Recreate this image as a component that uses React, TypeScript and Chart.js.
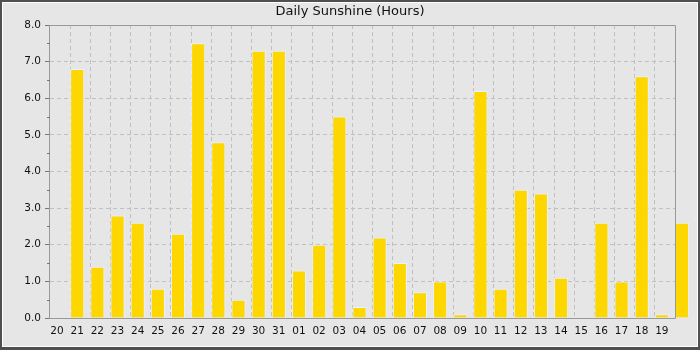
import React, { useEffect, useRef } from "react";
import { Chart, registerables } from "chart.js";

Chart.register(...registerables);

// ---- data ----
const dayLabels: string[] = [
  "20", "21", "22", "23", "24", "25", "26", "27", "28", "29", "30", "31",
  "01", "02", "03", "04", "05", "06", "07", "08", "09", "10", "11", "12",
  "13", "14", "15", "16", "17", "18", "19",
];
// one more value than labels: the last bar falls past the right edge of the plot
const sunshineHours: number[] = [
  0, 6.8, 1.4, 2.8, 2.6, 0.8, 2.3, 7.5, 4.8, 0.5, 7.3, 7.3,
  1.3, 2.0, 5.5, 0.3, 2.2, 1.5, 0.7, 1.0, 0.1, 6.2, 0.8, 3.5,
  3.4, 1.1, 0, 2.6, 1.0, 6.6, 0.1, 2.6,
];
const yTicks: number[] = [0, 1, 2, 3, 4, 5, 6, 7, 8];
const titleText = "Daily Sunshine (Hours)";

const FONT = "'DejaVu Sans', sans-serif";
const SLOT_ALIGN = 0.35; // bars sit at the left part of each slot

const framePlugin = {
  id: "frame",
  beforeDraw(chart: any) {
    const { ctx, width, height } = chart;
    ctx.save();
    ctx.fillStyle = "#4f4f4f";
    ctx.fillRect(0, 0, width, height);
    ctx.fillStyle = "#ffffff";
    ctx.fillRect(2, 2, width - 4, height - 5);
    ctx.fillStyle = "#e6e6e6";
    ctx.fillRect(3, 3, width - 6, height - 7);
    ctx.restore();
  },
  afterDatasetsDraw(chart: any) {
    const { ctx, chartArea } = chart;
    const { left, right, top, bottom } = chartArea;
    const y = chart.scales.y;
    ctx.save();
    ctx.strokeStyle = "#999999";
    ctx.lineWidth = 1;
    ctx.beginPath();
    ctx.rect(Math.round(left) - 0.5, Math.round(top) + 0.5, Math.round(right - left) + 1, Math.round(bottom - top));
    ctx.stroke();
    // minor ticks on the y axis
    ctx.strokeStyle = "#777777";
    ctx.beginPath();
    for (let i = 0; i < yTicks.length - 1; i++) {
      const py = Math.round(y.getPixelForValue(yTicks[i] + 0.5)) + 0.5;
      ctx.moveTo(Math.round(left) - 3, py);
      ctx.lineTo(Math.round(left), py);
    }
    ctx.stroke();
    ctx.restore();
  },
};

export default function App() {
  const ref = useRef<HTMLCanvasElement | null>(null);

  useEffect(() => {
    const prevMargin = document.body.style.margin;
    document.body.style.margin = "0";
    const canvas = ref.current!;
    const chart = new Chart(canvas, {
      type: "bar",
      data: {
        datasets: [
          {
            label: "Sunshine",
            data: sunshineHours.map((v, i) => ({ x: i + SLOT_ALIGN, y: v })),
            backgroundColor: "#ffd700",
            borderColor: "#eaf2ff",
            borderWidth: 1,
            barPercentage: 0.7,
            categoryPercentage: 1,
            clip: false as any,
          },
        ],
      },
      plugins: [framePlugin],
      options: {
        animation: false,
        responsive: false,
        devicePixelRatio: 1,
        layout: { padding: { left: 0, right: 0, top: 0, bottom: 0 } },
        plugins: {
          legend: { display: false },
          tooltip: { enabled: false },
          title: {
            display: true,
            text: titleText,
            color: "#111111",
            font: { family: FONT, size: 13, weight: "normal" },
            padding: { top: 4, bottom: 5.4 },
          },
        },
        scales: {
          x: {
            type: "linear",
            min: 0,
            max: dayLabels.length,
            offset: false,
            grid: {
              offset: false,
              drawTicks: false,
              color: (c: any) =>
                c.tick && (c.tick.value === 0 || c.tick.value === dayLabels.length)
                  ? "rgba(0,0,0,0)"
                  : "#c0c0c0",
              lineWidth: 1,
            },
            border: { display: false, dash: [4, 3] },
            ticks: {
              stepSize: 1,
              autoSkip: false,
              maxRotation: 0,
              padding: 7,
              labelOffset: 7,
              color: "#111111",
              font: { family: FONT, size: 10.5 },
              callback: (v: any) => dayLabels[v as number] ?? "",
            },
            afterFit: (s: any) => {
              s.height = 32;
            },
          },
          y: {
            type: "linear",
            min: yTicks[0],
            max: yTicks[yTicks.length - 1],
            grid: {
              color: (c: any) =>
                c.tick && (c.tick.value === yTicks[0] || c.tick.value === yTicks[yTicks.length - 1])
                  ? "rgba(0,0,0,0)"
                  : "#c0c0c0",
              tickColor: "#777777",
              tickLength: 5,
              lineWidth: 1,
            },
            border: { display: false, dash: [4, 3] },
            ticks: {
              stepSize: 1,
              padding: 4,
              color: "#111111",
              font: { family: FONT, size: 10.5 },
              callback: (v: any) => Number(v).toFixed(1),
            },
            afterFit: (s: any) => {
              s.width = 50;
            },
          },
          yRight: {
            type: "linear",
            position: "right",
            min: yTicks[0],
            max: yTicks[yTicks.length - 1],
            grid: { drawOnChartArea: false, drawTicks: false },
            border: { display: false },
            ticks: { display: false },
            afterFit: (s: any) => {
              s.width = 25;
            },
          },
        },
      },
    });
    return () => {
      chart.destroy();
      document.body.style.margin = prevMargin;
    };
  }, []);

  return (
    <div style={{ position: "absolute", left: 0, top: 0, width: 700, height: 350 }}>
      <canvas ref={ref} width={700} height={350} style={{ display: "block" }} />
    </div>
  );
}
